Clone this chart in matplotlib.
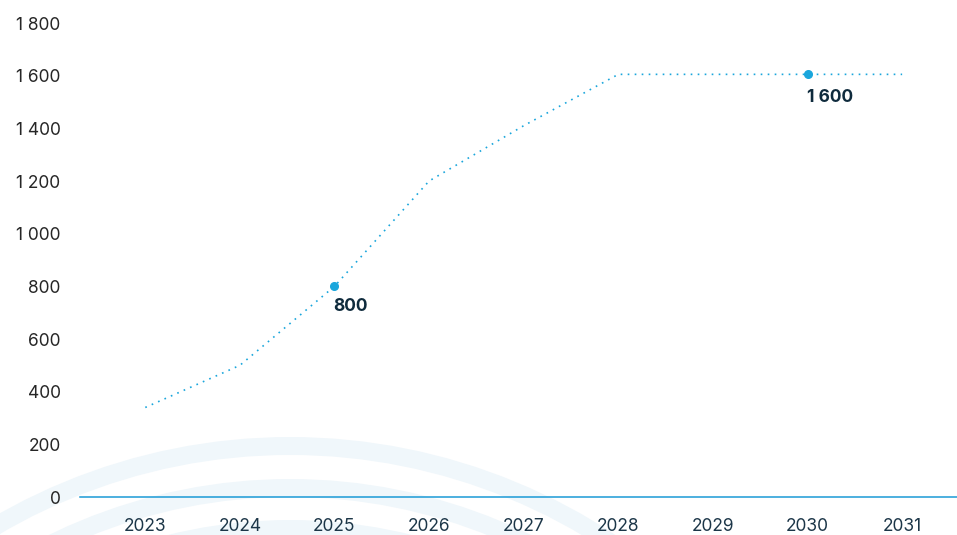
import matplotlib
matplotlib.use("Agg")
import matplotlib.pyplot as plt
from matplotlib.patches import Circle

plt.rcParams['font.family'] = ['Inter', 'DejaVu Sans']

years = [2023, 2024, 2025, 2026, 2027, 2028, 2029, 2030, 2031]
values = [340, 500, 800, 1200, 1410, 1605, 1605, 1605, 1605]
highlight_years = [2025, 2030]
highlight_labels = ["800", "1 600"]
y_ticks = [0, 200, 400, 600, 800, 1000, 1200, 1400, 1600, 1800]
y_tick_labels = ["0", "200", "400", "600", "800", "1 000", "1 200",
                 "1 400", "1 600", "1 800"]

W, H = 957, 535
fig = plt.figure(figsize=(W / 100, H / 100), dpi=100)

# background decorative arcs
bg = fig.add_axes([0, 0, 1, 1], zorder=0)
bg.set_xlim(0, W)
bg.set_ylim(H, 0)
bg.axis('off')
for r in [581, 539, 498]:
    bg.add_patch(Circle((290, 1027), r, fill=False, edgecolor='#f0f7fb',
                        linewidth=18 * 0.72))

ax = fig.add_axes([80 / W, 38 / H, 1 - 80 / W, (497 - 23) / H], zorder=1)
ax.set_facecolor('none')
line_color = '#1aa6dc'
ax.plot(years, values, color=line_color, lw=1.2, linestyle=(0, (1, 3.2)))
hv = [values[years.index(y)] for y in highlight_years]
ax.plot(highlight_years, hv, 'o', color=line_color, markersize=5.5, zorder=3)
offsets = [(-1, -12), (-1, -15)]
for x, v, lab, off in zip(highlight_years, hv, highlight_labels, offsets):
    ax.annotate(lab, (x, v), xytext=off, textcoords='offset pixels',
                ha='left', va='top', fontsize=12.5, fontweight='bold',
                color='#0f2b3d')

ax.set_xlim(2022.31, 2031.58)
ax.set_ylim(0, 1800)
ax.set_xticks(years)
ax.set_xticklabels([str(y) for y in years], fontsize=12.5, color='#1c3648')
ax.set_yticks(y_ticks)
ax.set_yticklabels(y_tick_labels, fontsize=12.5, color='#262626')
ax.tick_params(axis='x', length=0, pad=15)
ax.tick_params(axis='y', length=0, pad=14)
for s in ['top', 'right', 'left']:
    ax.spines[s].set_visible(False)
ax.spines['bottom'].set_color('#1b9ad6')
ax.spines['bottom'].set_linewidth(1.1)

fig.savefig('out.png', dpi=100)
